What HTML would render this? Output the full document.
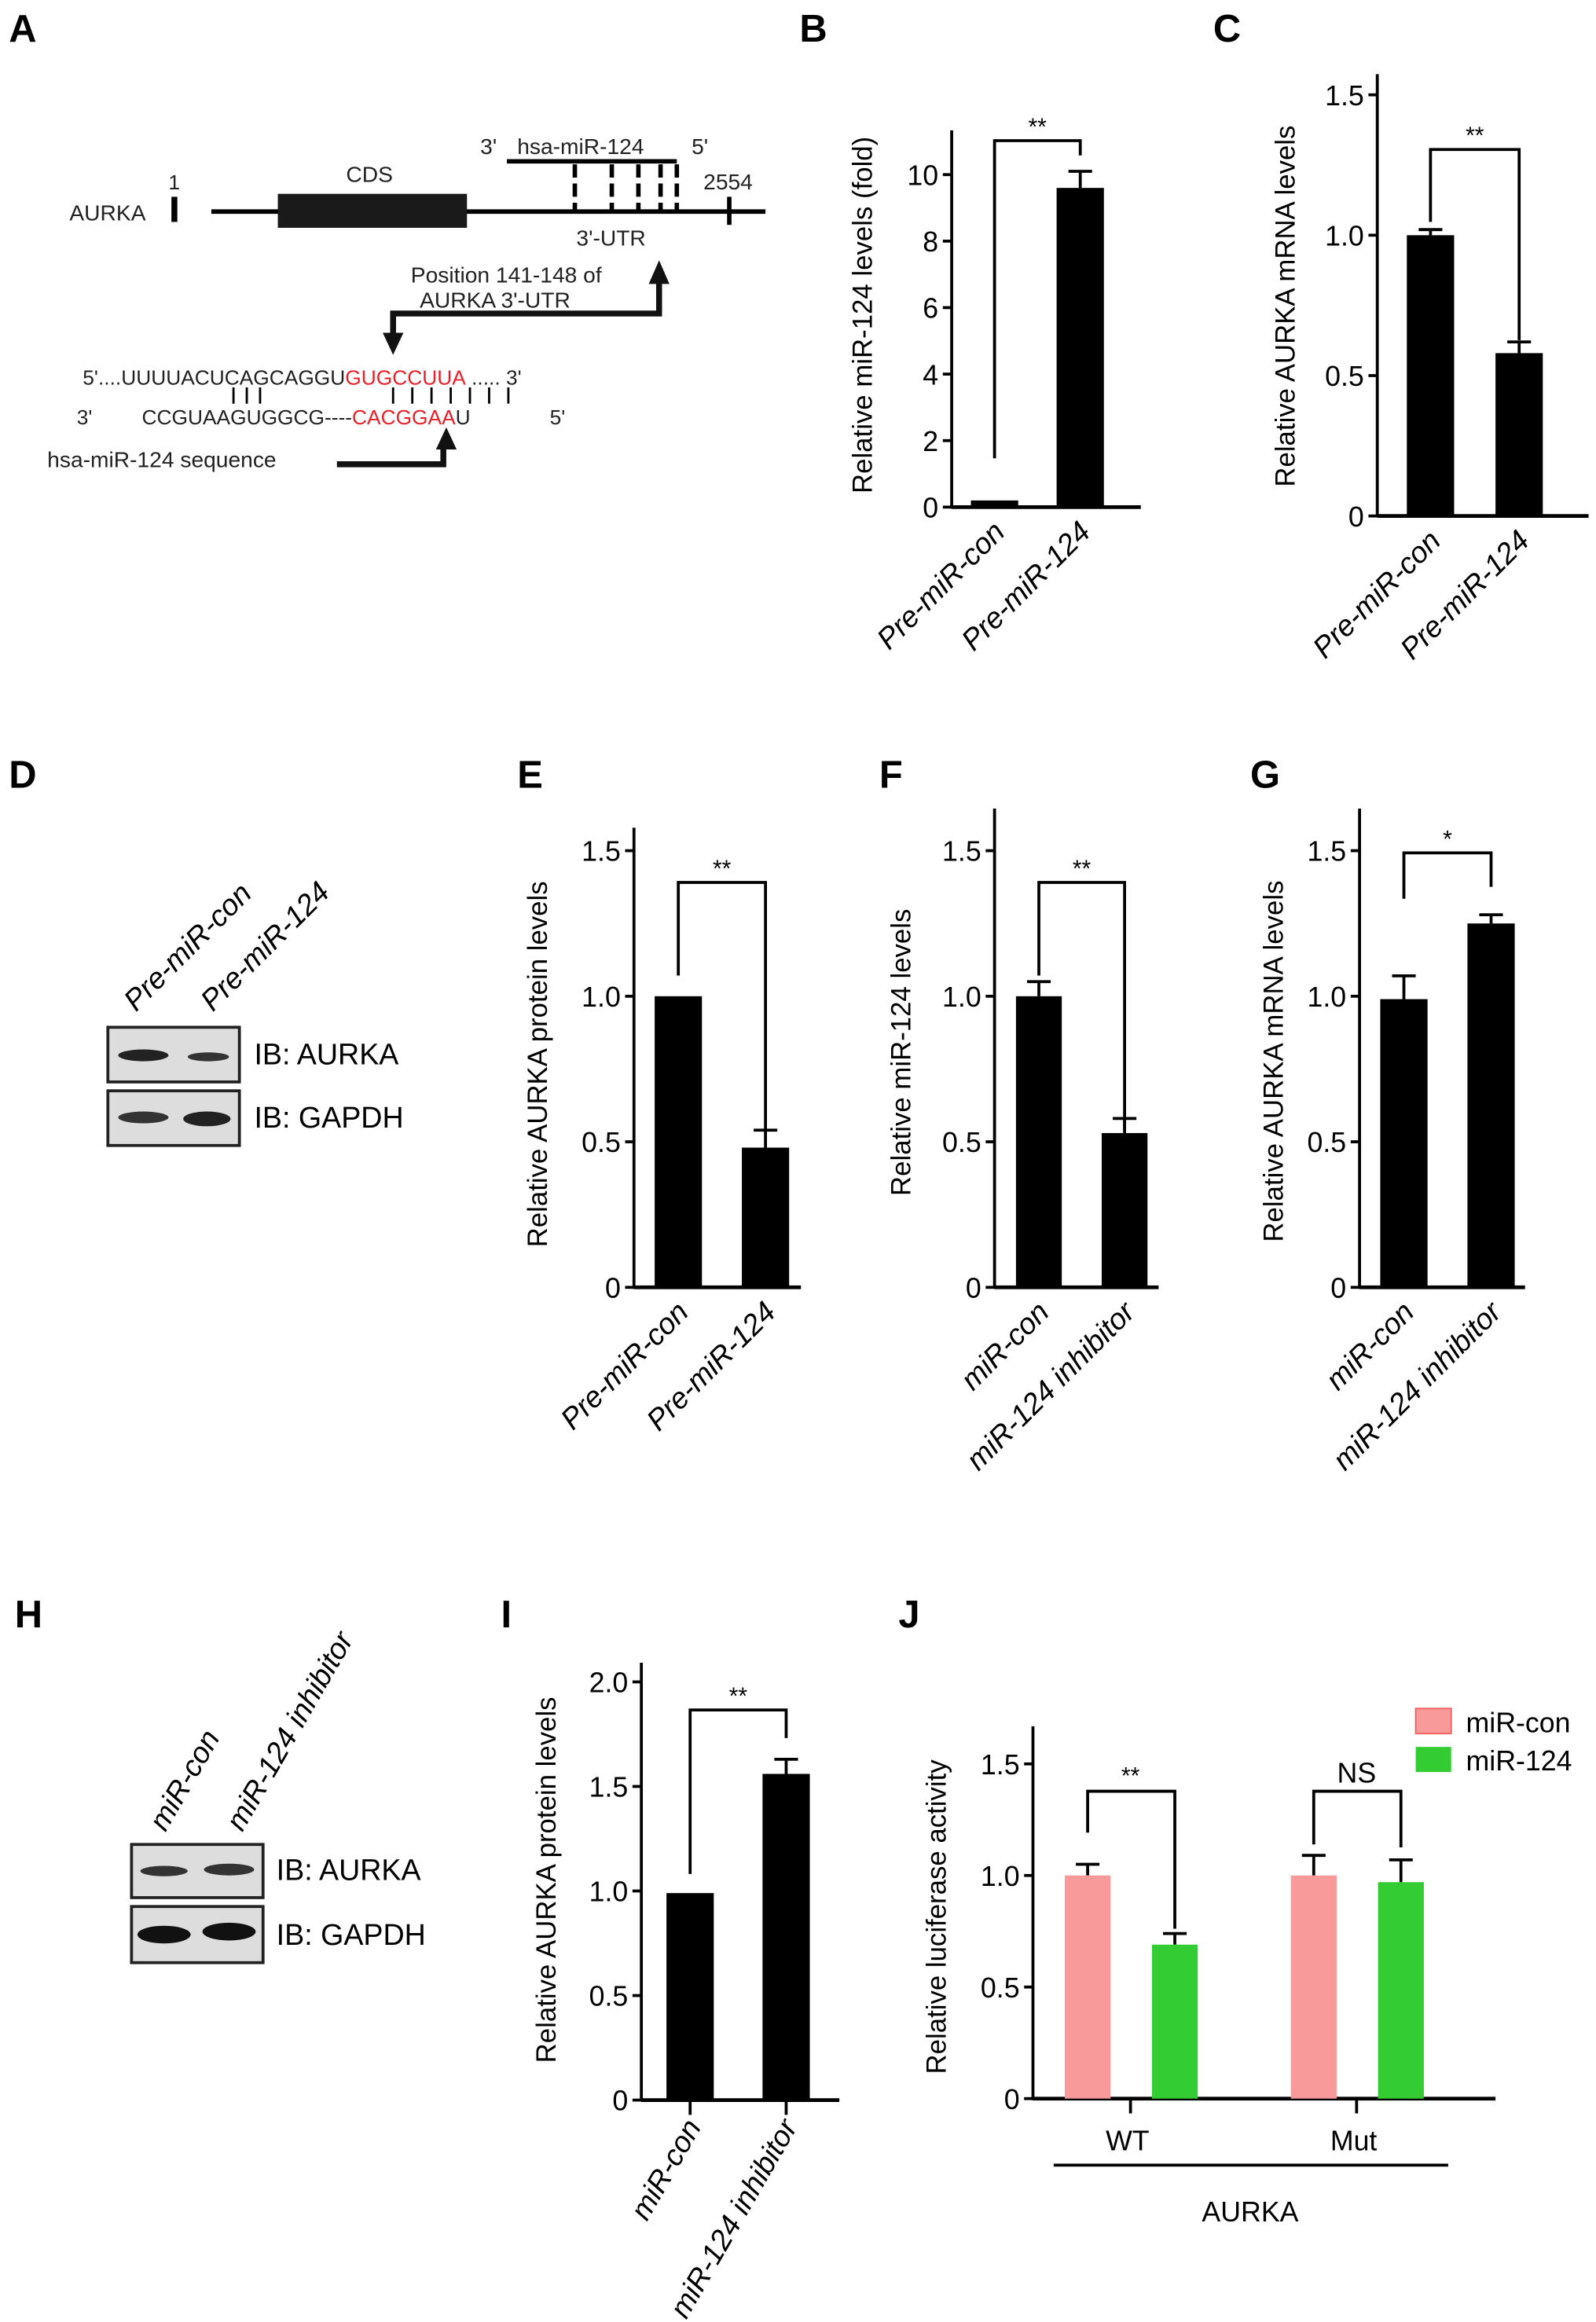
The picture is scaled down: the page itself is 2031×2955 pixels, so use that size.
<!DOCTYPE html>
<html><head><meta charset="utf-8"><style>
html,body{margin:0;padding:0;background:#fff}
svg{display:block;font-family:"Liberation Sans",sans-serif}
</style></head><body>
<svg id="fig" width="2031" height="2955" viewBox="0 0 1080 1571" xmlns="http://www.w3.org/2000/svg">
<g font-weight="bold" font-size="26">
<text x="6" y="28">A</text><text x="541" y="28">B</text><text x="821" y="28">C</text>
<text x="6" y="533">D</text><text x="350" y="533">E</text><text x="595" y="533">F</text><text x="846" y="533">G</text>
<text x="10" y="1101">H</text><text x="339" y="1101">I</text><text x="608" y="1101">J</text>
</g>
<g font-size="15" fill="#222">
<text x="47" y="149">AURKA</text>
<rect x="116" y="133" width="4" height="17" fill="#000"/>
<text x="114" y="128" font-size="14">1</text>
<line x1="143" y1="143" x2="518" y2="143" stroke="#000" stroke-width="3"/>
<rect x="188" y="131" width="128" height="23" fill="#1a1a1a"/>
<text x="250" y="123" text-anchor="middle">CDS</text>
<line x1="343" y1="109" x2="458" y2="109" stroke="#000" stroke-width="3"/>
<text x="325" y="104">3'</text><text x="350" y="104">hsa-miR-124</text><text x="468" y="104">5'</text>
<g stroke="#000" stroke-width="3" stroke-dasharray="9,4">
<line x1="389" y1="111" x2="389" y2="142"/><line x1="414" y1="111" x2="414" y2="142"/><line x1="432" y1="111" x2="432" y2="142"/><line x1="447" y1="111" x2="447" y2="142"/><line x1="458" y1="111" x2="458" y2="142"/></g>
<text x="476" y="128">2554</text>
<rect x="492" y="133" width="3" height="19" fill="#000"/>
<text x="390" y="166">3'-UTR</text>
<text x="278" y="191">Position 141-148 of</text>
<text x="284" y="208">AURKA 3'-UTR</text>
<polyline points="266,232 266,212 446,212 446,186" fill="none" stroke="#111" stroke-width="4"/>
<polygon points="446,176 439,192 453,192" fill="#111"/>
<polygon points="266,240 259,225 273,225" fill="#111"/>
<text x="56" y="260" font-size="14">5'....UUUUACUCAGCAGGU<tspan fill="#e8202a">GUGCCUUA</tspan> ..... 3'</text>
<g stroke="#000" stroke-width="1.5">
<line x1="158" y1="262" x2="158" y2="273"/><line x1="167" y1="262" x2="167" y2="273"/><line x1="176" y1="262" x2="176" y2="273"/>
<line x1="266" y1="262" x2="266" y2="273"/><line x1="279" y1="262" x2="279" y2="273"/><line x1="292" y1="262" x2="292" y2="273"/><line x1="305" y1="262" x2="305" y2="273"/><line x1="318" y1="262" x2="318" y2="273"/><line x1="331" y1="262" x2="331" y2="273"/><line x1="344" y1="262" x2="344" y2="273"/></g>
<text x="52" y="287" font-size="14">3'</text>
<text x="96" y="287" font-size="14">CCGUAAGUGGCG----<tspan fill="#e8202a">CACGGAA</tspan>U</text>
<text x="372" y="287" font-size="14">5'</text>
<text x="32" y="316">hsa-miR-124 sequence</text>
<polyline points="228,314 300,314 300,298" fill="none" stroke="#111" stroke-width="4"/>
<polygon points="302,289 295,304 309,304" fill="#111"/>
</g>
<g font-size="20">
<text transform="translate(92,685) rotate(-45)" font-style="italic">Pre-miR-con</text>
<text transform="translate(144,685) rotate(-45)" font-style="italic">Pre-miR-124</text>
<rect x="73" y="695" width="89" height="37" fill="#ddd" stroke="#222" stroke-width="2"/>
<rect x="73" y="738" width="89" height="37" fill="#ddd" stroke="#222" stroke-width="2"/>
<ellipse cx="97" cy="714" rx="17" ry="4" fill="#222"/><ellipse cx="141" cy="715" rx="14" ry="3" fill="#333"/>
<ellipse cx="97" cy="756" rx="17" ry="4" fill="#333"/><ellipse cx="140" cy="757" rx="16" ry="5" fill="#222"/>
<text x="172" y="720">IB: AURKA</text><text x="172" y="763">IB: GAPDH</text>
</g>
<g font-size="20">
<text transform="translate(112,1240) rotate(-60)" font-style="italic">miR-con</text>
<text transform="translate(164,1240) rotate(-60)" font-style="italic">miR-124 inhibitor</text>
<rect x="89" y="1248" width="89" height="36" fill="#ddd" stroke="#222" stroke-width="2"/>
<rect x="89" y="1290" width="89" height="38" fill="#ddd" stroke="#222" stroke-width="2"/>
<ellipse cx="111" cy="1266" rx="16" ry="3.5" fill="#333"/><ellipse cx="155" cy="1265" rx="17" ry="4" fill="#333"/>
<ellipse cx="111" cy="1309" rx="18" ry="6" fill="#111"/><ellipse cx="155" cy="1307" rx="18" ry="6" fill="#111"/>
<text x="187" y="1272">IB: AURKA</text><text x="187" y="1316">IB: GAPDH</text>
</g>
<g id="charts"></g>
</svg>
<script>
const bCats=["Pre-miR-con","Pre-miR-124"];const bVals=[0.2,9.6];const bErr=[0.2,10.1];const bTicks=[0,2,4,6,8,10];
const cCats=["Pre-miR-con","Pre-miR-124"];const cVals=[1.0,0.58];const cErr=[1.02,0.62];
const eCats=["Pre-miR-con","Pre-miR-124"];const eVals=[1.0,0.48];const eErr=[1.0,0.54];
const fCats=["miR-con","miR-124 inhibitor"];const fVals=[1.0,0.53];const fErr=[1.05,0.58];
const gCats=["miR-con","miR-124 inhibitor"];const gVals=[0.99,1.25];const gErr=[1.07,1.28];
const iCats=["miR-con","miR-124 inhibitor"];const iVals=[0.99,1.56];const iErr=[0.99,1.63];const iTicks=[0,0.5,1.0,1.5,2.0];
const t15=[0,0.5,1.0,1.5];
const jGroups=["WT","Mut"];const jCon=[1.0,1.0];const jConErr=[1.05,1.09];const jMir=[0.69,0.97];const jMirErr=[0.74,1.07];
const NS="http://www.w3.org/2000/svg";const root=document.getElementById('charts');
function mk(tag,at,par){const e=document.createElementNS(NS,tag);for(const k in at)e.setAttribute(k,at[k]);(par||root).appendChild(e);return e;}
function chart(o){
 const g=mk('g',{});
 
 
 const y=v=>o.y0-(v-o.vmin)*o.k;
 mk('line',{x1:o.ax,y1:o.top,x2:o.ax,y2:o.y0+1,stroke:'#000','stroke-width':2},g);
 mk('line',{x1:o.ax,y1:o.y0,x2:o.xe,y2:o.y0,stroke:'#000','stroke-width':2.5},g);
 o.ticks.forEach((t,i)=>{mk('line',{x1:o.ax-6,y1:y(t),x2:o.ax,y2:y(t),stroke:'#000','stroke-width':2},g);
  const tx=mk('text',{x:o.ax-9,y:y(t)+7,'text-anchor':'end','font-size':19},g);tx.textContent=o.tl[i];});
 const yl=mk('text',{transform:`translate(${o.ylx},${o.yly}) rotate(-90)`,'text-anchor':'middle','font-size':18.5},g);
 
 
 yl.textContent=o.ylabel;
 o.cats.forEach((c,i)=>{const cx=o.cx[i],v=o.vals[i],e=o.err[i];
  if(e>v){mk('line',{x1:cx,y1:y(e),x2:cx,y2:y(v),stroke:'#000','stroke-width':2},g);mk('line',{x1:cx-8,y1:y(e),x2:cx+8,y2:y(e),stroke:'#000','stroke-width':2},g);}
  const r=mk('rect',{x:cx-o.bw/2,y:y(v),width:o.bw,height:o.y0-y(v),fill:'#000'},g);
  
  
  if(o.xt)mk('line',{x1:cx,y1:o.y0,x2:cx,y2:o.y0+10,stroke:'#000','stroke-width':2},g);
  const lt=mk('text',{transform:`translate(${cx+8},${o.y0+18}) rotate(${o.rot})`,'text-anchor':'end','font-size':20,'font-style':'italic'},g);
  
  
  lt.textContent=c;});
 const b=o.br;mk('polyline',{points:`${o.cx[0]},${b.d1} ${o.cx[0]},${b.y} ${o.cx[1]},${b.y} ${o.cx[1]},${b.d2}`,fill:'none',stroke:'#000','stroke-width':2},g);
 const st=mk('text',{x:(o.cx[0]+o.cx[1])/2,y:b.y-4,'text-anchor':'middle','font-size':16},g);st.textContent=b.s;
}
const tl15=["0","0.5","1.0","1.5"];
chart({name:'chart-b',ax:644,top:88,y0:343,vmin:0,k:22.5,xe:772,ticks:bTicks,tl:bTicks.map(String),cats:bCats,vals:bVals,err:bErr,cx:[673,731],bw:32,rot:-45,ylx:590,yly:213,ylabel:'Relative miR-124 levels (fold)',br:{y:95,d1:310,d2:105,s:'**'}});
chart({name:'chart-c',ax:932,top:50,y0:349,vmin:0,k:190,xe:1075,ticks:t15,tl:tl15,cats:cCats,vals:cVals,err:cErr,cx:[968,1028],bw:32,rot:-45,ylx:876,yly:207,ylabel:'Relative AURKA mRNA levels',br:{y:101,d1:150,d2:230,s:'**'}});
chart({name:'chart-e',ax:429,top:560,y0:871,vmin:0,k:197,xe:542,ticks:t15,tl:tl15,cats:eCats,vals:eVals,err:eErr,cx:[459,518],bw:32,rot:-45,ylx:370,yly:720,ylabel:'Relative AURKA protein levels',br:{y:597,d1:660,d2:765,s:'**'}});
chart({name:'chart-f',ax:673,top:547,y0:871,vmin:0,k:197,xe:784,ticks:t15,tl:tl15,cats:fCats,vals:fVals,err:fErr,cx:[703,761],bw:31,rot:-45,ylx:616,yly:712,ylabel:'Relative miR-124 levels',br:{y:597,d1:660,d2:765,s:'**'}});
chart({name:'chart-g',ax:920,top:547,y0:871,vmin:0,k:197,xe:1032,ticks:t15,tl:tl15,cats:gCats,vals:gVals,err:gErr,cx:[950,1009],bw:32,rot:-45,ylx:868,yly:718,ylabel:'Relative AURKA mRNA levels',br:{y:577,d1:608,d2:600,s:'*'}});
chart({name:'chart-i',ax:434,top:1125,y0:1421,vmin:0,k:141.5,xe:568,ticks:iTicks,tl:["0","0.5","1.0","1.5","2.0"],cats:iCats,vals:iVals,err:iErr,cx:[467,532],bw:32,rot:-60,xt:true,ylx:376,yly:1272,ylabel:'Relative AURKA protein levels',br:{y:1157,d1:1268,d2:1176,s:'**'}});
(function(){
 const g=mk('g',{});
 
 
 const ax=699,y0=1420,k=151,y=v=>y0-v*k;
 mk('line',{x1:ax,y1:1168,x2:ax,y2:y0+1,stroke:'#000','stroke-width':2},g);
 mk('line',{x1:ax,y1:y0,x2:1012,y2:y0,stroke:'#000','stroke-width':2.5},g);
 t15.forEach((t,i)=>{mk('line',{x1:ax-6,y1:y(t),x2:ax,y2:y(t),stroke:'#000','stroke-width':2},g);const tx=mk('text',{x:ax-9,y:y(t)+7,'text-anchor':'end','font-size':19},g);tx.textContent=tl15[i];});
 const yl=mk('text',{transform:`translate(640,1297) rotate(-90)`,'text-anchor':'middle','font-size':18.5},g);
 
 
 yl.textContent='Relative luciferase activity';
 const gc=[765,918];
 jGroups.forEach((gr,i)=>{
  [[jCon,jConErr,'#f89a9a',-29],[jMir,jMirErr,'#33cc33',30]].forEach(([vs,es,col,off])=>{
   const cx=gc[i]+off;mk('line',{x1:cx,y1:y(es[i]),x2:cx,y2:y(vs[i]),stroke:'#000','stroke-width':2},g);mk('line',{x1:cx-8,y1:y(es[i]),x2:cx+8,y2:y(es[i]),stroke:'#000','stroke-width':2},g);
   const r=mk('rect',{x:cx-15.5,y:y(vs[i]),width:31,height:y0-y(vs[i]),fill:col},g);
   
   });
  mk('line',{x1:gc[i],y1:y0,x2:gc[i],y2:y0+10,stroke:'#000','stroke-width':2},g);
  const t=mk('text',{x:gc[i]-2,y:1455,'text-anchor':'middle','font-size':19},g);t.textContent=gr;});
 mk('line',{x1:713,y1:1465,x2:980,y2:1465,stroke:'#000','stroke-width':2},g);
 const a=mk('text',{x:846,y:1503,'text-anchor':'middle','font-size':19},g);a.textContent='AURKA';
 mk('polyline',{points:'736,1240 736,1212 795,1212 795,1305',fill:'none',stroke:'#000','stroke-width':2},g);
 const s1=mk('text',{x:765,y:1207,'text-anchor':'middle','font-size':16},g);s1.textContent='**';
 mk('polyline',{points:'889,1248 889,1212 948,1212 948,1250',fill:'none',stroke:'#000','stroke-width':2},g);
 const s2=mk('text',{x:918,y:1206,'text-anchor':'middle','font-size':19},g);s2.textContent='NS';
 const lg=mk('g',{},g);
 
 
 mk('rect',{x:958,y:1156,width:24,height:17,fill:'#f89a9a',stroke:'#f06060'},lg);
 mk('rect',{x:958,y:1182,width:24,height:17,fill:'#33cc33'},lg);
 const l1=mk('text',{x:992,y:1172,'font-size':19},lg);l1.textContent='miR-con';
 const l2=mk('text',{x:992,y:1198,'font-size':19},lg);l2.textContent='miR-124';
})();
</script>
</body></html>
